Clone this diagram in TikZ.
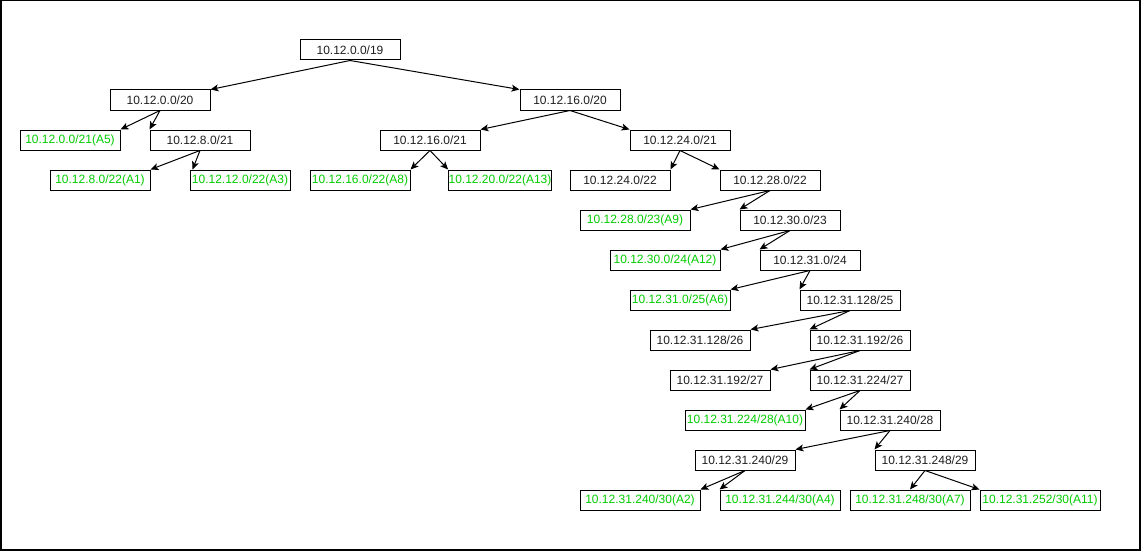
\documentclass[tikz,border=0pt]{standalone}
\usepackage{fontspec}
\setmainfont{Liberation Sans}
\usetikzlibrary{arrows.meta}
\definecolor{netgreen}{RGB}{0,204,0}
\definecolor{txtgray}{RGB}{30,30,30}
\begin{document}
\begin{tikzpicture}[x=1pt,y=-1pt,
  nbox/.style={draw=black,line width=1pt,rectangle,minimum width=100pt,minimum height=20pt,inner sep=0pt,
    font=\fontsize{12}{14}\selectfont,text=txtgray},
  gbox/.style={nbox,text=netgreen},
  wide/.style={minimum width=#1},
  edge/.style={line width=1pt,-{Stealth[length=8pt,width=7pt,inset=2pt]}}]
\useasboundingbox (0,0) rectangle (1141,551);
\draw[line width=1.5pt] (0.75,0.75) rectangle (1140,550);
% nodes
\node[nbox] (r) at (350,50) {10.12.0.0/19};
\node[nbox] (a) at (160,100) {10.12.0.0/20};
\node[nbox] (b) at (570,100) {10.12.16.0/20};
\node[gbox] (a1) at (70,140) {10.12.0.0/21(A5)};
\node[nbox] (a2) at (200,140) {10.12.8.0/21};
\node[nbox] (b1) at (430,140) {10.12.16.0/21};
\node[nbox] (b2) at (680,140) {10.12.24.0/21};
\node[gbox] (a21) at (100,180) {10.12.8.0/22(A1)};
\node[gbox] (a22) at (240,180) {10.12.12.0/22(A3)};
\node[gbox] (b11) at (360,180) {10.12.16.0/22(A8)};
\node[gbox] (b12) at (500,180) {10.12.20.0/22(A13)};
\node[nbox] (b21) at (620,180) {10.12.24.0/22};
\node[nbox] (b22) at (770,180) {10.12.28.0/22};
\node[gbox,wide=110pt] (c1) at (635,220) {10.12.28.0/23(A9)};
\node[nbox] (c2) at (790,220) {10.12.30.0/23};
\node[gbox,wide=110pt] (d1) at (665,260) {10.12.30.0/24(A12)};
\node[nbox] (d2) at (810,260) {10.12.31.0/24};
\node[gbox] (e1) at (680,300) {10.12.31.0/25(A6)};
\node[nbox] (e2) at (850,300) {10.12.31.128/25};
\node[nbox] (f1) at (700,340) {10.12.31.128/26};
\node[nbox] (f2) at (860,340) {10.12.31.192/26};
\node[nbox] (g1) at (720,380) {10.12.31.192/27};
\node[nbox] (g2) at (860,380) {10.12.31.224/27};
\node[gbox,wide=120pt] (h1) at (745,420) {10.12.31.224/28(A10)};
\node[nbox] (h2) at (890,420) {10.12.31.240/28};
\node[nbox] (i1) at (745,460) {10.12.31.240/29};
\node[nbox] (i2) at (925,460) {10.12.31.248/29};
\node[gbox,wide=120pt] (j1) at (640,500) {10.12.31.240/30(A2)};
\node[gbox,wide=120pt] (j2) at (780,500) {10.12.31.244/30(A4)};
\node[gbox,wide=120pt] (j3) at (910,500) {10.12.31.248/30(A7)};
\node[gbox,wide=120pt] (j4) at (1040,500) {10.12.31.252/30(A11)};
% edges
\draw[edge] (r.south) -- (a.north east);
\draw[edge] (r.south) -- (b.north west);
\draw[edge] (a.south) -- (a1.north east);
\draw[edge] (a.south) -- (a2.north west);
\draw[edge] (a2.south) -- (a21.north east);
\draw[edge] (a2.south) -- ([xshift=3pt]a22.north west);
\draw[edge] (b.south) -- (b1.north east);
\draw[edge] (b.south) -- (b2.north west);
\draw[edge] (b1.south) -- (b11.north east);
\draw[edge] (b1.south) -- (b12.north west);
\draw[edge] (b2.south) -- (b21.north east);
\draw[edge] (b2.south) -- (b22.north west);
\draw[edge] (b22.south) -- (c1.north east);
\draw[edge] (b22.south) -- (c2.north west);
\draw[edge] (c2.south) -- (d1.north east);
\draw[edge] (c2.south) -- (d2.north west);
\draw[edge] (d2.south) -- (e1.north east);
\draw[edge] (d2.south) -- (e2.north west);
\draw[edge] (e2.south) -- (f1.north east);
\draw[edge] (e2.south) -- (f2.north west);
\draw[edge] (f2.south) -- (g1.north east);
\draw[edge] (f2.south) -- (g2.north west);
\draw[edge] (g2.south) -- (h1.north east);
\draw[edge] (g2.south) -- (h2.north west);
\draw[edge] (h2.south) -- (i1.north east);
\draw[edge] (h2.south) -- (i2.north west);
\draw[edge] (i1.south) -- (j1.north east);
\draw[edge] (i1.south) -- (j2.north west);
\draw[edge] (i2.south) -- (j3.north);
\draw[edge] (i2.south) -- (j4.north west);
\end{tikzpicture}
\end{document}
